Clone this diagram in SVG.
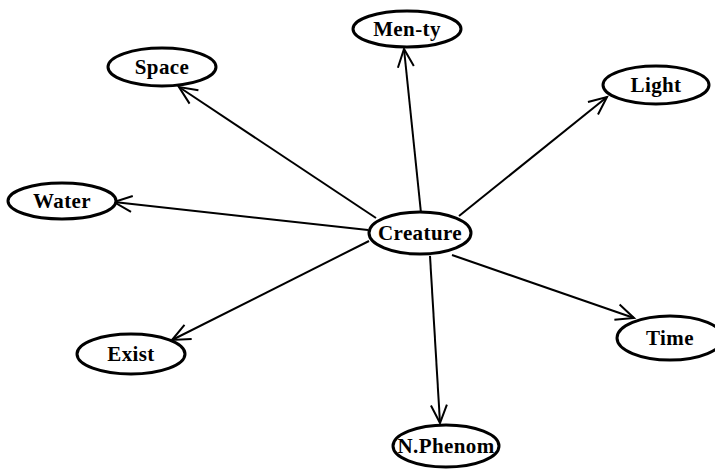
<svg xmlns="http://www.w3.org/2000/svg" width="715" height="470" viewBox="0 0 715 470">
<style>
.n ellipse{fill:#fff;stroke:#000;stroke-width:3}
.n text{font-family:"Liberation Serif","Times New Roman",serif;font-weight:bold;font-size:21px;letter-spacing:0.4px;text-anchor:middle;fill:#000}
.e line{stroke:#000;stroke-width:2;marker-end:url(#ah)}
</style>
<defs>
<marker id="ah" markerUnits="userSpaceOnUse" markerWidth="30" markerHeight="30" refX="0" refY="0" viewBox="-25 -12 30 24" orient="auto" overflow="visible">
<path d="M-18,-8 L0,0 L-18,8" fill="none" stroke="#000" stroke-width="2"/>
</marker>
</defs>
<rect width="715" height="470" fill="#fff"/>
<g class="e" id="connectors">
<line x1="421" y1="213" x2="404" y2="49"/>
<line x1="376" y1="218" x2="179" y2="87"/>
<line x1="459" y1="216" x2="607" y2="97"/>
<line x1="368" y1="230" x2="114" y2="202"/>
<line x1="369" y1="241" x2="172" y2="340"/>
<line x1="452" y1="255" x2="634" y2="318"/>
<line x1="430" y1="256" x2="440" y2="423"/>
</g>
<g class="n" id="creature"><ellipse cx="420" cy="233" rx="51" ry="21"/><text x="420" y="240">Creature</text></g>
<g class="n" id="menty"><ellipse cx="407" cy="29" rx="54" ry="18"/><text x="407" y="36">Men-ty</text></g>
<g class="n" id="space"><ellipse cx="162" cy="67" rx="54" ry="19"/><text x="162" y="74">Space</text></g>
<g class="n" id="light"><ellipse cx="656" cy="85" rx="53" ry="19"/><text x="656" y="92">Light</text></g>
<g class="n" id="water"><ellipse cx="62" cy="201" rx="54" ry="18"/><text x="62" y="208">Water</text></g>
<g class="n" id="exist"><ellipse cx="131" cy="354" rx="54" ry="20"/><text x="131" y="361">Exist</text></g>
<g class="n" id="time"><ellipse cx="670" cy="338" rx="53" ry="22"/><text x="670" y="345">Time</text></g>
<g class="n" id="nphenom"><ellipse cx="446" cy="446" rx="53" ry="21"/><text x="446" y="453">N.Phenom</text></g>
</svg>
